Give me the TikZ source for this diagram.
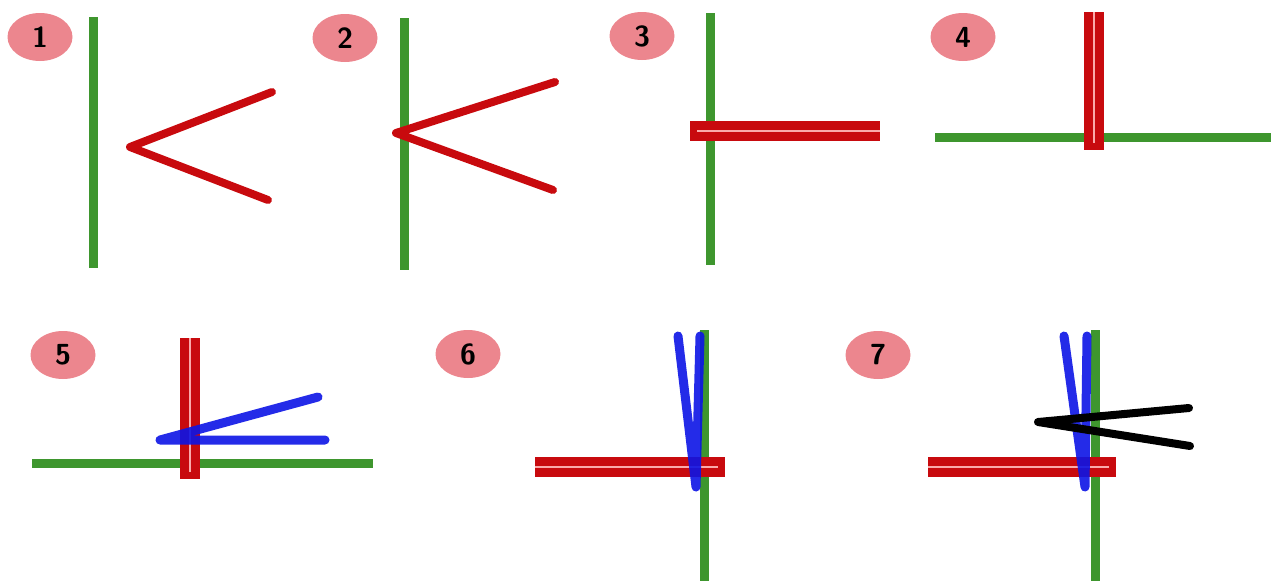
\documentclass[tikz,border=0pt]{standalone}
\usetikzlibrary{shapes.geometric}
\definecolor{railgreen}{RGB}{62,150,46}
\definecolor{armred}{RGB}{200,10,14}
\definecolor{gappink}{RGB}{250,170,170}
\definecolor{bladeblue}{RGB}{12,20,230}
\definecolor{badgepink}{RGB}{236,134,142}
\tikzset{
  rail/.style={draw=railgreen, line width=9pt},
  arm/.style={draw=armred, line width=8pt, line cap=round, line join=round},
  pair/.style={draw=armred, line width=20pt},
  gap/.style={draw=gappink, line width=2.5pt},
  blade/.style={draw=bladeblue, line width=9pt, line cap=round, line join=round, opacity=.9},
  tipline/.style={draw=black, line width=8pt, line cap=round, line join=round},
  badge/.style={ellipse, fill=badgepink, minimum width=65pt, minimum height=48pt,
    inner sep=0pt, font=\fontsize{29}{29}\selectfont\sffamily\bfseries}
}
\begin{document}
\begin{tikzpicture}[x=1pt,y=-1pt]
    \useasboundingbox (0,0) rectangle (1271,581);

    % step badges
    \foreach \n/\bx/\by in {1/40/37, 2/345/38, 3/642/36, 4/963/37,
                            5/63/355, 6/468/354, 7/878/355} {
      \node[badge] (n\n) at (\bx,\by) {\n};
    }

    % 1
    \draw[rail] (93,17) -- (93,268);
    \coordinate (v1) at (130,147);
    \draw[arm] (272,92) -- (v1) -- (268,200);

    % 2
    \draw[rail] (404,18) -- (404,270);
    \coordinate (v2) at (396,133);
    \draw[arm] (555,82) -- (v2) -- (553,190);

    % 3
    \draw[rail] (710,13) -- (710,265);
    \draw[pair] (690,131) -- (880,131);
    \draw[gap]  (697,131) -- (880,131);

    % 4
    \draw[rail] (935,137) -- (1271,137);
    \draw[pair] (1094,12) -- (1094,150);
    \draw[gap]  (1094,12) -- (1094,143);

    % 5
    \draw[rail] (32,463) -- (373,463);
    \draw[pair] (190,338) -- (190,479);
    \draw[gap]  (190,338) -- (190,472);
    \coordinate (v5) at (160,440);
    \draw[blade] (318,397) -- (v5) -- (325,440);

    % 6
    \draw[rail] (704,330) -- (704,581);
    \draw[pair] (535,467) -- (725,467);
    \draw[gap]  (535,467) -- (718,467);
    \coordinate (v6) at (696,487);
    \draw[blade] (678,336) -- (v6) -- (700,336);

    % 7
    \draw[rail] (1095,330) -- (1095,581);
    \draw[pair] (928,467) -- (1116,467);
    \draw[gap]  (928,467) -- (1109,467);
    \coordinate (v7) at (1085,487);
    \draw[blade] (1064,336) -- (v7) -- (1087,336);
    \coordinate (k7) at (1038,422);
    \draw[tipline] (1189,408) -- (k7) -- (1190,446);

  \end{tikzpicture}
\end{document}
